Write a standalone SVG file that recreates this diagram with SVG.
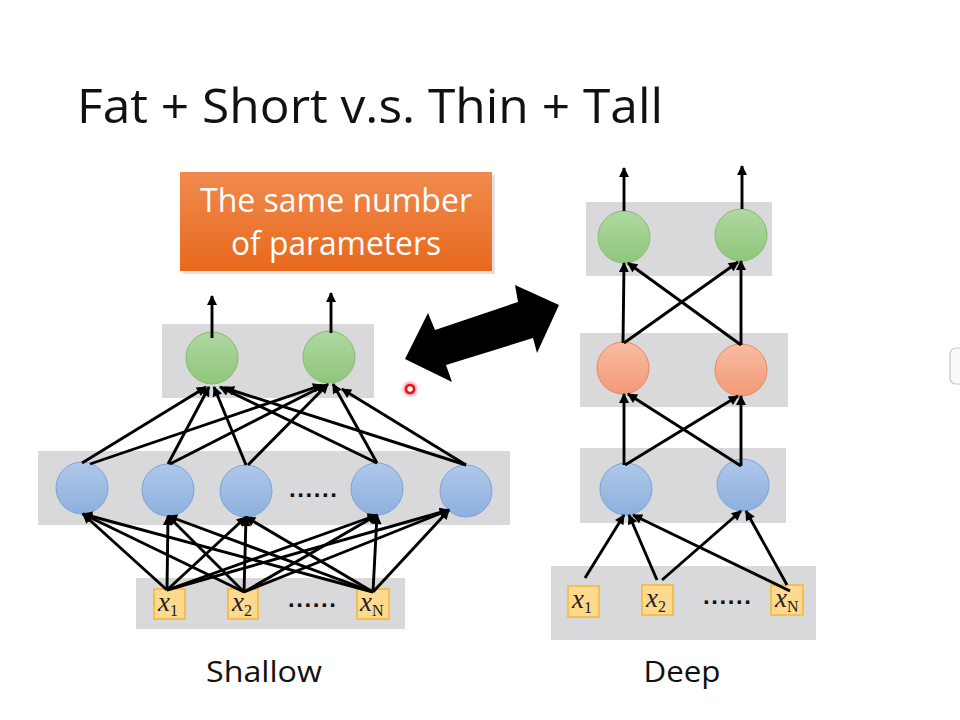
<svg xmlns="http://www.w3.org/2000/svg" width="960" height="720" viewBox="0 0 960 720">
<style>
.band{fill:#d9d9db}
.blue{fill:url(#gBlue);stroke:#7ea3d6;stroke-width:1}
.green{fill:url(#gGreen);stroke:#86bb72;stroke-width:1}
.orange{fill:url(#gOrange);stroke:#e8885c;stroke-width:1}
.inbox{fill:#fed98e;stroke:#f2b637;stroke-width:1.5}
.xv{font-family:"Liberation Serif",serif;font-style:italic;font-size:27px;fill:#222}
.sub{font-style:normal;font-size:16px}
.dots{font-family:"Liberation Sans",sans-serif;font-weight:bold;font-size:24px;fill:#111}
.lbl{font-family:"Open Sans","Noto Sans",sans-serif;fill:#111}
#conn line{stroke:#000;stroke-width:2.9;marker-end:url(#ah)}
</style>
<defs>
<linearGradient id="gBlue" x1="0" y1="0" x2="0" y2="1"><stop offset="0" stop-color="#afc8ea"/><stop offset="1" stop-color="#8db0de"/></linearGradient>
<linearGradient id="gGreen" x1="0" y1="0" x2="0" y2="1"><stop offset="0" stop-color="#afd8a0"/><stop offset="1" stop-color="#8fc67c"/></linearGradient>
<linearGradient id="gOrange" x1="0" y1="0" x2="0" y2="1"><stop offset="0" stop-color="#f9bca3"/><stop offset="1" stop-color="#f29a76"/></linearGradient>
<linearGradient id="gBox" x1="0" y1="0" x2="0" y2="1"><stop offset="0" stop-color="#f08a4e"/><stop offset="1" stop-color="#e8691d"/></linearGradient>
<radialGradient id="gRed"><stop offset="0.5" stop-color="#ff2020" stop-opacity="0.5"/><stop offset="1" stop-color="#ff2020" stop-opacity="0"/></radialGradient>
<marker id="ah" viewBox="0 0 10 10" refX="9" refY="5" markerWidth="12" markerHeight="10" markerUnits="userSpaceOnUse" orient="auto">
<path d="M0,0 L10,5 L0,10 z" fill="#000"/>
</marker>
</defs>
<rect width="960" height="720" fill="#ffffff"/>

<text class="lbl" x="77" y="123" font-size="48" textLength="586" lengthAdjust="spacingAndGlyphs">Fat + Short v.s. Thin + Tall</text>

<g id="note">
<rect x="183" y="175" width="312" height="99" fill="#000" opacity="0.12"/>
<rect x="180" y="172" width="312" height="99" fill="url(#gBox)"/>
<text class="lbl" x="336" y="212" font-size="32" text-anchor="middle" textLength="272" lengthAdjust="spacingAndGlyphs" style="fill:#fff">The same number</text>
<text class="lbl" x="336" y="255" font-size="32" text-anchor="middle" textLength="210" lengthAdjust="spacingAndGlyphs" style="fill:#fff">of parameters</text>
</g>

<g id="bands">
<rect class="band" x="162" y="324" width="212" height="74"/>
<rect class="band" x="38" y="451" width="472" height="74"/>
<rect class="band" x="136" y="578" width="269" height="51"/>
<rect class="band" x="586" y="202" width="186" height="74"/>
<rect class="band" x="580" y="333" width="208" height="74"/>
<rect class="band" x="580" y="448" width="206" height="75"/>
<rect class="band" x="551" y="566" width="265" height="74"/>
</g>

<g id="shallow-out1"><circle class="green" cx="212" cy="358" r="26"/></g>
<g id="shallow-out2"><circle class="green" cx="329" cy="357" r="26"/></g>
<g id="shallow-h1"><circle class="blue" cx="82" cy="488" r="26"/></g>
<g id="shallow-h2"><circle class="blue" cx="168" cy="490" r="26"/></g>
<g id="shallow-h3"><circle class="blue" cx="246" cy="491" r="26"/></g>
<g id="shallow-h4"><circle class="blue" cx="377" cy="489" r="26"/></g>
<g id="shallow-h5"><circle class="blue" cx="466" cy="491" r="26"/></g>
<text class="dots" x="289" y="497" textLength="48" lengthAdjust="spacing">......</text>

<g id="shallow-x1"><rect class="inbox" x="154" y="589" width="31" height="30"/><text class="xv" x="158" y="611">x<tspan class="sub" dy="5">1</tspan></text></g>
<g id="shallow-x2"><rect class="inbox" x="228" y="589" width="30" height="30"/><text class="xv" x="232" y="611">x<tspan class="sub" dy="5">2</tspan></text></g>
<g id="shallow-xN"><rect class="inbox" x="357" y="589" width="32" height="30"/><text class="xv" x="360" y="611">x<tspan class="sub" dy="5">N</tspan></text></g>
<text class="dots" x="288" y="607" textLength="48" lengthAdjust="spacing">......</text>

<g id="deep-out1"><circle class="green" cx="624" cy="237" r="26"/></g>
<g id="deep-out2"><circle class="green" cx="741" cy="235" r="26"/></g>
<g id="deep-m1"><circle class="orange" cx="623" cy="368" r="26"/></g>
<g id="deep-m2"><circle class="orange" cx="741" cy="370" r="26"/></g>
<g id="deep-h1"><circle class="blue" cx="626" cy="489" r="26"/></g>
<g id="deep-h2"><circle class="blue" cx="743" cy="485" r="26"/></g>

<g id="deep-x1"><rect class="inbox" x="568" y="586" width="31" height="31"/><text class="xv" x="572" y="608">x<tspan class="sub" dy="5">1</tspan></text></g>
<g id="deep-x2"><rect class="inbox" x="642" y="585" width="31" height="30"/><text class="xv" x="646" y="607">x<tspan class="sub" dy="5">2</tspan></text></g>
<g id="deep-xN"><rect class="inbox" x="771" y="585" width="32" height="30"/><text class="xv" x="775" y="607">x<tspan class="sub" dy="5">N</tspan></text></g>
<text class="dots" x="703" y="604" textLength="48" lengthAdjust="spacing">......</text>

<g id="conn">
<line x1="212" y1="338" x2="212" y2="296"/>
<line x1="331" y1="333" x2="331" y2="293"/>
<line x1="82" y1="463" x2="206" y2="387"/>
<line x1="90" y1="464" x2="322" y2="385"/>
<line x1="168" y1="464" x2="209" y2="387"/>
<line x1="170" y1="464" x2="325" y2="385"/>
<line x1="246" y1="465" x2="214" y2="387"/>
<line x1="248" y1="465" x2="328" y2="384"/>
<line x1="377" y1="463" x2="220" y2="387"/>
<line x1="377" y1="463" x2="333" y2="384"/>
<line x1="466" y1="465" x2="225" y2="388"/>
<line x1="466" y1="465" x2="342" y2="389"/>
<line x1="167" y1="590" x2="83" y2="514"/>
<line x1="167" y1="590" x2="168" y2="516"/>
<line x1="167" y1="590" x2="246" y2="517"/>
<line x1="167" y1="590" x2="377" y2="515"/>
<line x1="167" y1="590" x2="449" y2="510"/>
<line x1="244" y1="592" x2="83" y2="514"/>
<line x1="244" y1="592" x2="168" y2="516"/>
<line x1="244" y1="592" x2="246" y2="517"/>
<line x1="244" y1="592" x2="377" y2="515"/>
<line x1="244" y1="592" x2="449" y2="510"/>
<line x1="373" y1="592" x2="83" y2="514"/>
<line x1="373" y1="592" x2="168" y2="516"/>
<line x1="373" y1="592" x2="246" y2="517"/>
<line x1="373" y1="592" x2="377" y2="515"/>
<line x1="373" y1="592" x2="449" y2="510"/>
<line x1="624" y1="211" x2="624" y2="168"/>
<line x1="742" y1="209" x2="742" y2="166"/>
<line x1="623" y1="343" x2="624" y2="263"/>
<line x1="624" y1="343" x2="738" y2="262"/>
<line x1="741" y1="345" x2="628" y2="263"/>
<line x1="741" y1="345" x2="741" y2="261"/>
<line x1="624" y1="465" x2="624" y2="394"/>
<line x1="625" y1="465" x2="738" y2="396"/>
<line x1="741" y1="466" x2="628" y2="394"/>
<line x1="741" y1="466" x2="741" y2="396"/>
<line x1="585" y1="578" x2="624" y2="515"/>
<line x1="657" y1="580" x2="629" y2="515"/>
<line x1="662" y1="580" x2="741" y2="511"/>
<line x1="790" y1="591" x2="633" y2="515"/>
<line x1="787" y1="585" x2="746" y2="511"/>
</g>

<g id="double-arrow">
<polygon points="405,359 428,313 435,330 518,302 515,285 559,305 537,353 533,338 446,365 452,382" fill="#000"/>
</g>

<g id="pointer">
<circle cx="410" cy="389" r="9" fill="url(#gRed)"/>
<circle cx="410" cy="389" r="4" fill="#fff" stroke="#e8101a" stroke-width="2.6"/>
</g>

<rect x="950" y="348" width="30" height="36" rx="6" fill="#fafafa" stroke="#c8c8c8" stroke-width="1.2"/>

<text class="lbl" x="264" y="682" font-size="29" text-anchor="middle" textLength="116" lengthAdjust="spacingAndGlyphs">Shallow</text>
<text class="lbl" x="682" y="682" font-size="29" text-anchor="middle" textLength="77" lengthAdjust="spacingAndGlyphs">Deep</text>
</svg>
